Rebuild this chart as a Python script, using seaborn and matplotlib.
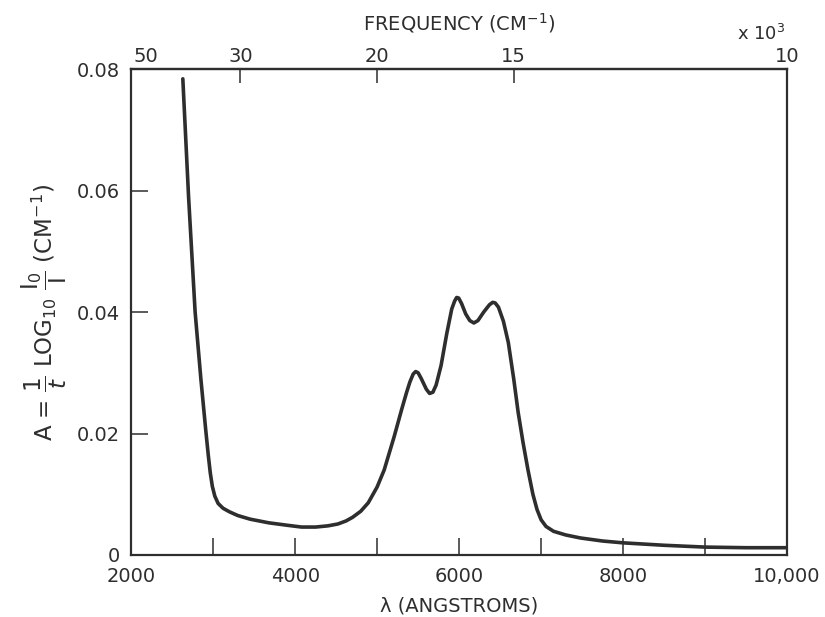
import numpy as np
import pandas as pd
import matplotlib
matplotlib.use("Agg")
import matplotlib.pyplot as plt
import matplotlib.transforms as mtransforms
import seaborn as sns

# ---- data ----
wavelength = [2630, 2700, 2780, 2850, 2910, 2940, 2965, 2990, 3020, 3060, 3120,
              3200, 3300, 3450, 3677, 3900, 4078, 4250, 4400, 4520, 4620, 4700,
              4800, 4892, 5000, 5086, 5208, 5300, 5360, 5400, 5440, 5470, 5500,
              5540, 5600, 5640, 5680, 5720, 5780, 5850, 5910, 5945, 5970, 5995,
              6030, 6080, 6130, 6180, 6230, 6300, 6370, 6410, 6440, 6480, 6540,
              6600, 6666, 6720, 6780, 6840, 6900, 6950, 7000, 7060, 7152, 7300,
              7480, 7750, 8000, 8500, 9000, 9500, 10000]
absorbance = [0.0784, 0.059, 0.040, 0.029, 0.0205, 0.0165, 0.0135, 0.0113,
              0.0097, 0.0085, 0.0077, 0.0071, 0.0065, 0.0059, 0.0053, 0.0049,
              0.0046, 0.0046, 0.0048, 0.0051, 0.0056, 0.0062, 0.0072, 0.0086,
              0.0112, 0.0140, 0.0195, 0.0240, 0.0268, 0.0285, 0.0298, 0.0302,
              0.0300, 0.0290, 0.0273, 0.0266, 0.0268, 0.0280, 0.0312, 0.0365,
              0.0405, 0.0418, 0.0424, 0.0423, 0.0414, 0.0397, 0.0386, 0.0382,
              0.0386, 0.0400, 0.0412, 0.0416, 0.0415, 0.0408, 0.0385, 0.0350,
              0.0290, 0.0235, 0.0185, 0.0140, 0.0100, 0.0075, 0.0058, 0.0047,
              0.0039, 0.0033, 0.0028, 0.0023, 0.0020, 0.0016, 0.0013, 0.0012,
              0.0012]

x_ticks = [2000, 3000, 4000, 5000, 6000, 7000, 8000, 9000, 10000]
x_tick_labels = ["2000", "", "4000", "", "6000", "", "8000", "", "10,000"]
y_ticks = [0, 0.02, 0.04, 0.06, 0.08]
y_tick_labels = ["0", "0.02", "0.04", "0.06", "0.08"]
freq_ticks = [50000, 30000, 20000, 15000, 10000]
freq_tick_labels = ["50", "30", "20", "15", "10"]

df = pd.DataFrame({"wavelength": wavelength, "A": absorbance})

sns.set_theme(style="white")
plt.rcParams["font.family"] = ["DejaVu Sans"]
plt.rcParams["mathtext.fontset"] = "dejavusans"

ink = "#2e2e2e"
fig = plt.figure(figsize=(8.25, 6.17), dpi=100)
ax = fig.add_axes([0.159, 0.1005, 0.795, 0.7875])

sns.lineplot(data=df, x="wavelength", y="A", ax=ax, color=ink, linewidth=2.6,
             estimator=None, sort=False)

ax.set_xlim(2000, 10000)
ax.set_ylim(0, 0.08)
ax.set_xticks(x_ticks)
ax.set_xticklabels(x_tick_labels)
ax.set_yticks(y_ticks)
ax.set_yticklabels(y_tick_labels)
ax.tick_params(axis="x", bottom=True, top=False, direction="in", length=12,
               width=1.1, pad=9, labelsize=14, colors=ink)
ax.tick_params(axis="y", left=True, right=False, direction="in", length=12,
               width=1.1, pad=8, labelsize=14, colors=ink)
for s in ax.spines.values():
    s.set_visible(True)
    s.set_color(ink)
    s.set_linewidth(1.6)

ax.set_xlabel("λ (ANGSTROMS)", fontsize=14, color=ink, labelpad=7)
ax.set_ylabel(r"A = $\dfrac{1}{t}$ LOG$_{10}$ $\dfrac{\mathrm{I_0}}{\mathrm{I}}$ (CM$^{-1}$)",
              fontsize=16.5, color=ink, labelpad=6)

# top frequency axis
sec = ax.secondary_xaxis("top", functions=(lambda x: 1e8 / np.asarray(x, float),
                                           lambda f: 1e8 / np.asarray(f, float)))
sec.set_xticks(freq_ticks)
sec.set_xticklabels(freq_tick_labels)
sec.tick_params(top=True, direction="in", length=10, width=1.1, pad=2,
                labelsize=14, colors=ink)
sec.spines["top"].set_color(ink)
sec.spines["top"].set_linewidth(1.6)
sec.set_xlabel(r"FREQUENCY (CM$^{-1}$)", fontsize=14, color=ink, labelpad=12)
# the "50" label sits just right of the corner
lbl = sec.get_xticklabels()[0]
lbl.set_transform(lbl.get_transform() +
                  mtransforms.ScaledTranslation(15 / 100, 0, fig.dpi_scale_trans))

ax.text(0.998, 1.072, r"x 10$^3$", transform=ax.transAxes, ha="right",
        va="center", fontsize=13, color=ink)

fig.savefig("out.png", dpi=100, facecolor="white")
